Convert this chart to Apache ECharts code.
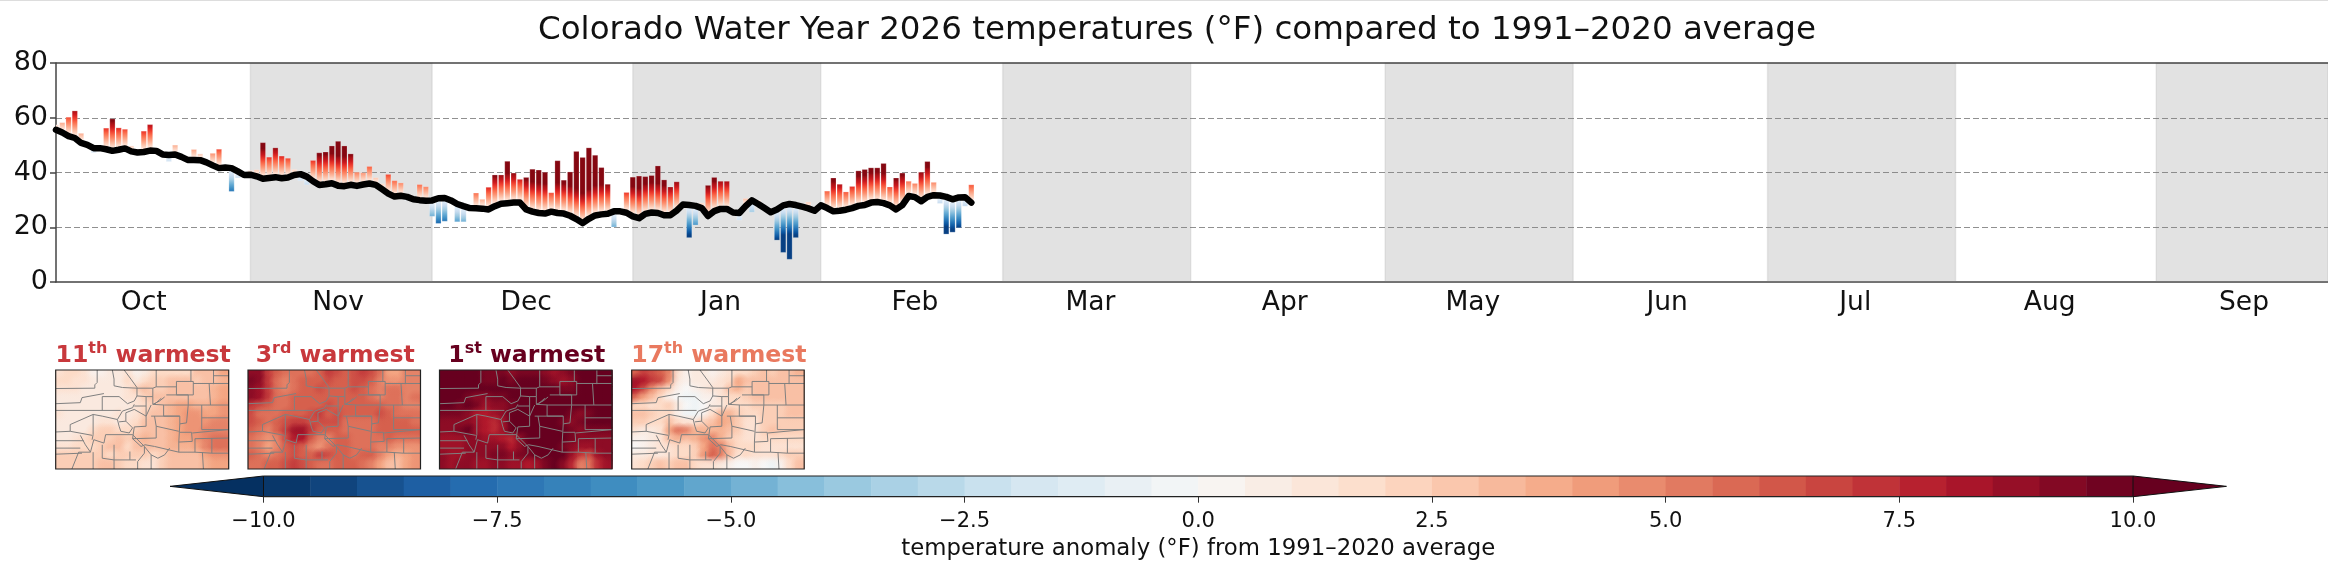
<!DOCTYPE html>
<html><head><meta charset="utf-8">
<style>html,body{margin:0;padding:0;background:#fff;overflow:hidden}#c{width:2328px;height:574px}</style>
<script src="https://cdn.jsdelivr.net/npm/echarts@6/dist/echarts.min.js"></script>
</head><body><div id="c"></div>
<script>
const titleText = 'Colorado Water Year 2026 temperatures (°F) compared to 1991–2020 average';
const cbarLabel = 'temperature anomaly (°F) from 1991–2020 average';
const monthNames = ['Oct','Nov','Dec','Jan','Feb','Mar','Apr','May','Jun','Jul','Aug','Sep'];
const monthLabelDays = [14,45,75,106,137,165,196,226,257,287,318,349];
const bandStarts = [31,92,151,212,273,335];
const bandEnds = [60,122,181,242,303,362.4];
const axisEndDay = 362.4;
const climF = [55.6,54.6,53.3,52.6,50.8,50.1,48.9,48.9,48.5,47.9,48.3,48.8,47.7,47.3,47.5,48,47.9,46.6,46.4,46.6,45.7,44.6,44.6,44.5,43.7,42.6,41.6,41.8,41.6,40.4,39.1,39.2,38.6,37.7,38,38.3,37.9,38.2,39.1,39.4,38.5,36.8,35.4,35.7,36.1,35.2,35,35.5,35.1,35.6,36,35.5,33.9,32.3,31.2,31.5,31.1,30.2,29.9,29.7,29.8,30.6,30.7,29.8,28.5,27.7,27,26.9,26.8,26.5,27.7,28.6,28.8,29,29,26.5,25.7,25.2,25,25.7,25.2,25,24.2,23,21.5,23.1,24.3,24.7,24.9,25.8,25.8,25.3,24,23.3,24.9,25.4,25.2,24.4,24.4,26.1,28.3,28.1,27.8,27,24.1,25.9,26.7,26.7,25.4,25.2,27.7,29.8,28.5,27,25.5,26.5,28,28.5,28.1,27.5,26.9,26,28,27,25.8,26,26.4,27,27.8,28.1,29,29.2,28.8,28,26.5,28.1,31.4,31,29.5,31.1,31.7,31.6,31.1,30.2,30.9,31,29];
const tempF = [57.4,58.2,60.2,62.5,54.3,50.3,47.2,49,56.2,59.6,56.3,55.8,49.7,47.5,55.1,57.5,48,46.7,44,50,46,45.8,48.4,46.8,43.9,47,48.5,42,33.1,38,39.5,40.7,41,50.9,45.6,49,46,45.2,41.1,37,35.5,44.4,47.2,47.5,49.7,51.4,49.7,46.8,40.1,39.9,42.2,38.1,35.9,39.3,37,36.2,29.8,30.3,35.6,34.8,24,21.4,22.2,29.9,22,22,27.1,32.5,30.2,34.6,39.1,39.1,44.1,39.8,37.5,38.2,41.2,40.9,40.1,32.6,44.3,37.2,40.2,47.7,45.5,49,46.3,41.8,35.7,20.1,25.8,32.7,38.3,38.7,38.5,38.9,42.4,37.3,34.7,36.6,28.3,16.2,20.8,28.9,35.3,38.2,36.8,36.8,25.5,22.6,30.5,25.5,29.9,27,25.5,15.3,10.8,8.3,16.2,27.5,29.2,26,28,33.2,38,35.7,32.9,34.9,40.6,41.1,41.7,41.7,43.3,34.7,38,39.8,36.8,36,40.1,44,36.4,28.7,17.5,18.2,19.8,27.7,35.5];

const mapTitles = [['11','th','#c8383c'],['3','rd','#c8383c'],['1','st','#67001f'],['17','th','#e9795f']];
const map1Rows = [
[1.5,2,2,1.5,.5,.5,1,1,1.5,.5,1,2,2,2,2,2,3,3,3,4],
[2,2,1.5,1.5,1,1,1,1,2,1,2,2.5,2.5,3,3,3,2.5,3,3,3.5],
[1.5,1.5,1.5,1,1,1,1,1,1.5,2.5,3,2.5,2.5,3,3,3,3,3,3.5,4],
[1,1,1,1,1,1,1,1,1.5,1.5,2.5,3,3,3,3,3,3,3,3.5,4],
[1,1,1,1,1,1,1,1,1,1.5,2,2.5,3,3.5,4,4,3.5,3.5,4,4.5],
[1.5,1,1,1,1,1,1,1.5,1,1.5,2.5,3,3,3.5,4,4.5,4.5,4,4,4.5],
[1,1,1,1,1,1.5,1.5,1,1.5,2,3,3,3,3.5,4,4.5,4.5,4.5,5,5],
[1,1,1,1,2,2.5,2.5,2,2,2.5,3,3,3,3.5,4,4.5,4.5,5,5,5],
[1,1,1.5,2,2.5,2.5,2.5,3,2.5,3,3.5,3,3,3.5,4,4,4.5,5,5.5,5.5],
[1.5,1.5,2,2,2,2.5,3,3,2,3,3,3,3,3.5,3.5,3.5,4,5,5.5,5.5],
[2.5,2.5,2.5,2.5,2.5,2.5,2,2.5,2.5,2.5,2.5,2,2.5,3,3,3,3,4,4.5,4.5],
[2.5,2.5,2.5,2.5,2.5,3,3,2.5,2,2,1.5,1.5,2.5,3,3,3,3,3.5,4,4]];
const map2Rows = [
[9,9,7,6,5.5,5.5,5.5,5.5,6,7,6.5,6,6.5,7,6.5,5.5,4,4,5,5],
[9.5,9,7,5.5,5,5.5,6,6,6,6.5,6,6,6.5,6.5,6,5,4.5,4.5,5,5],
[9,8.5,7,5.5,5,5.5,6,6,6.5,6,6,6,6.5,6,5.5,5,5.5,5.5,5,5],
[9,8.5,7,5.5,5.5,6,6,6,6,6,6,6,6,6,5.5,5,5.5,5.5,5,5.5],
[7,6.5,6,5.5,5.5,6,6,6,6,6.5,6,6,6,6,6,6,5.5,5.5,5,5],
[6.5,5.5,5.5,5.5,6,6,6,6.5,7,6,6.5,6,6,6,6,6.5,6,5.5,5.5,5.5],
[6.5,6,5.5,6,6.5,7,7,6.5,6.5,6.5,6.5,5.5,5.5,5.5,5.5,6,6,6,6,5.5],
[6,5.5,5,6,7,8.5,8.5,7,6,6,6,5.5,5.5,5.5,5.5,6,6,6,6,6],
[5.5,5,4.5,5,6.5,8,8,6,5,5,6,6,5.5,5.5,5.5,5.5,6,5.5,5.5,5.5],
[5.5,5,4,5,6,6.5,6,5,4.5,5.5,6,6,5.5,5.5,5.5,5,5,4.5,4.5,4.5],
[6,5.5,5,5.5,6,6.5,6,6,7,6.5,6,6,5.5,6,6,5,4,3.5,4,4.5],
[5.5,5.5,6,6,6.5,7,6.5,6,5.5,5.5,6,6,6,5.5,5,4,3,3,4,4.5]];
const map3Rows = [
[10,10,10,10,10,9.5,9.5,9.5,9,9.5,9.5,9.5,9,8.5,9,9.5,10,10,10,10],
[10,10,10,10,10,9.5,9.5,10,9.5,10,10,10,9.5,9,8.5,9,10,10,10,10],
[10,10,10,10,10,10,10,10,10,10,10,10,10,10,9.5,9.5,10,10,10,10],
[10,10,10,9.5,9,9,9.5,9.5,10,10,10,10,10,10,10,10,10,10,10,10],
[10,10,9.5,10,9.5,8.5,9,9,9.5,10,10,10,10,10,10,10,10,10,10,10],
[9.5,9.5,9.5,9,8,8,8.5,9,10,10,10,10,10,10,10,9.5,9,9.5,10,10],
[9,9,9,9,8.5,8,7.5,8.5,10,10,10,10,10,10,9.5,9,9.5,10,10,10],
[9,9,9.5,10,8.5,8,7.5,8.5,10,10,10,10,10,10,10,9.5,9,9.5,9.5,9.5],
[8.5,8.5,8.5,9,9,8.5,8.5,8,7.5,9,10,10,10,10,10,9.5,9,9,9,9],
[8.5,8.5,8.5,9,9,9,9,9,8,9,10,10,10,10,9.5,9,8.5,8.5,9,9],
[9,8.5,8.5,9,9,9,9.5,9.5,9,9.5,9.5,10,10,10,10,8.5,7,6.5,8.5,9],
[9,8.5,9,9,8.5,8.5,9,9,8.5,8.5,8,8.5,9.5,10,9,7.5,5,5.5,7.5,8.5]];
const map4Rows = [
[6,7,6.5,6,5,1.5,.5,1,1,.5,1,1.5,2,2,2.5,3,2.5,3,3,3.5],
[8.5,8,7,6.5,4.5,1,.5,1,1,1,1.5,2,4,3,3,3,3,3,3,3],
[8,6.5,4.5,3,2,.5,0,.5,1,1.5,1.5,3,3.5,2.5,3,3,3,3,3,3],
[5.5,4,3,2,.5,0,-.5,-.5,.5,.5,1.5,2,2,2.5,3,3,3,3,3,3],
[2,2,1.5,2,2.5,1,0,-.5,0,1,1,2,2,2,2.5,2.5,2.5,2.5,3,3],
[3,3,2.5,2,2,.5,-.5,-.5,.5,2,3.5,3.5,2.5,2,2,2.5,2.5,2.5,3,3],
[2.5,2.5,2,2,3,2,1.5,1.5,2.5,3,4,3.5,2.5,1.5,1.5,2.5,2.5,2.5,2.5,2.5],
[1.5,1,1,1.5,4,5.5,5,3.5,3.5,3.5,3.5,3,2.5,1.5,1.5,2.5,3,2.5,2.5,2.5],
[.5,.5,1,1.5,3,3.5,3,3.5,4.5,5,3.5,2.5,2,1.5,1.5,2,2,2,2,2],
[0,.5,1,1.5,1.5,2,2,2.5,4,5.5,5,3,2,2,2,1.5,1.5,1.5,1.5,1.5],
[1,1,1.5,1,1.5,2,2,2.5,4.5,6,5,3,1.5,2,1.5,1.5,1.5,2,2.5,2.5],
[1.5,2,2.5,3,2.5,3,3,2,1.5,1.5,1,.5,0,0,.5,0,-.5,.5,2,3]];
const countyLines = [
[[140,18],[140,55],[133,62],[133,72],[18,73]],
[[185,18],[190,45],[190,65],[215,70],[258,72],[305,72],[305,97]],
[[220,18],[240,45],[258,70],[258,95],[285,97],[305,97],[305,120],[340,122],[410,122],[530,122]],
[[315,18],[315,68],[305,72]],[[315,68],[375,68]],
[[375,52],[425,52],[425,92],[375,92],[375,52]],[[418,18],[418,52]],
[[485,18],[485,60]],[[485,35],[530,35]],[[425,58],[530,58]],[[472,58],[476,122]],
[[345,92],[410,92],[410,122],[405,175],[385,178],[385,155],[337,155],[337,122]],
[[300,155],[385,155]],[[285,97],[285,155],[300,122]],
[[285,155],[285,185],[250,187],[245,222],[270,245],[282,240],[310,245],[382,262]],
[[310,155],[315,185],[315,220],[245,222]],
[[315,185],[382,200]],[[385,178],[382,232],[422,230],[420,203],[385,203]],
[[382,232],[382,262],[430,262],[430,222],[530,220]],[[430,262],[480,265],[480,220]],[[480,265],[530,265]],
[[450,122],[450,195]],[[450,160],[530,160]],[[450,195],[530,195]],[[422,205],[530,195]],[[452,262],[455,312]],
[[355,250],[340,270],[320,280],[300,270],[280,245]],[[300,270],[300,312]],
[[260,312],[260,290],[280,265],[280,245]],[[237,260],[237,285]],
[[155,240],[155,280],[190,285],[255,285]],[[190,285],[190,312]],[[190,240],[190,285]],
[[165,210],[245,210],[280,245]],[[165,210],[160,235],[130,225],[120,262],[85,262],[65,312]],
[[128,150],[128,210],[125,225]],[[128,150],[60,180],[60,200],[18,202]],[[60,200],[125,212]],
[[18,228],[100,228]],[[18,250],[90,250]],[[18,268],[95,265]],[[90,212],[105,240],[120,262]],
[[128,150],[155,155],[200,165],[215,140],[245,130],[250,120]],
[[200,165],[205,185],[210,200],[235,205],[245,190],[225,170],[205,172]],
[[155,97],[155,138]],[[155,97],[205,97],[230,118],[250,110],[258,95]],
[[18,118],[90,115],[95,100],[160,88]],[[18,138],[210,138]],
[[225,170],[225,145],[250,135],[285,155]],[[250,125],[285,125]],
[[305,120],[325,110],[340,98]],[[312,118],[330,102]],[[128,262],[128,312]]];

const rdbuStops = ['#053061','#2166ac','#4393c3','#92c5de','#d1e5f0','#f7f7f7','#fddbc7','#f4a582','#d6604d','#b2182b','#67001f'];
const redsStops = ['#fff5f0','#fee0d2','#fcbba1','#fc9272','#fb6a4a','#ef3b2c','#cb181d','#a50f15','#67000d'];
const bluesStops = ['#f7fbff','#deebf7','#c6dbef','#9ecae1','#6baed6','#4292c6','#2171b5','#08519c','#08306b'];
function hex(c){return [1,3,5].map(i=>parseInt(c.substr(i,2),16));}
function ramp(stops,t,alpha){
  const n=stops.length-1, p=Math.max(0,Math.min(1,t))*n, i=Math.min(n-1,Math.floor(p)), f=p-i;
  const a=hex(stops[i]), b=hex(stops[i+1]);
  const m=a.map((x,k)=>Math.round(x+(b[k]-x)*f));
  return `rgba(${m[0]},${m[1]},${m[2]},${alpha===undefined?1:alpha})`;
}
function cmap(v,alpha){return ramp(rdbuStops,(v+10)/20,alpha);}
function barColor(a){const t=Math.min(.94,Math.abs(a)/11.5);return ramp(a>=0?redsStops:bluesStops,t);}
const G = echarts.graphic;
const FONT = '"DejaVu Sans"';
const dayRows = climF.map((c,i)=>[i,c,tempF[i]]);
const bins=[]; for(let k=0;k<40;k++) bins.push([-10+k*.5,-10+(k+1)*.5]);

function barItem(p,api){
  const i=api.value(0), c=api.value(1), t=api.value(2), a=t-c;
  const top=api.coord([i,Math.max(c,t)]), bot=api.coord([i,Math.min(c,t)]);
  const w=api.size([1,0])[0]*0.84, stops=[];
  for(let k=0;k<=24;k++){const f=k/24; stops.push({offset:f,color:barColor(a>0?a*(1-f):a*f)});}
  return {type:'rect',shape:{x:top[0]-w/2,y:top[1],width:w,height:Math.max(bot[1]-top[1],.5)},
    style:{fill:new G.LinearGradient(0,0,0,1,stops),stroke:'rgba(255,255,255,.35)',lineWidth:.6}};
}
const grids=[{left:56,right:0,top:63,height:219,show:false},{left:263.5,width:1869.5,top:476,height:20.7,show:false}];
const xAxes=[{gridIndex:0,type:'value',min:0,max:axisEndDay,splitLine:{show:false},axisTick:{show:false},
    axisLine:{onZero:false,lineStyle:{color:'#444',width:1.5}},
    axisLabel:{customValues:monthLabelDays,fontFamily:FONT,fontSize:26.5,color:'#111',margin:8,
      formatter:v=>monthNames[monthLabelDays.indexOf(v)]||''}},
  {gridIndex:1,type:'value',min:-10,max:10,interval:2.5,splitLine:{show:false},
    axisTick:{length:6,lineStyle:{color:'#333',width:1}},axisLine:{show:false},
    axisLabel:{fontFamily:FONT,fontSize:21,color:'#111',margin:14,formatter:v=>v.toFixed(1).replace('-','−')},
    name:cbarLabel,nameLocation:'middle',nameGap:41,nameTextStyle:{fontFamily:FONT,fontSize:22.8,color:'#111'}}];
const yAxes=[{gridIndex:0,type:'value',min:0,max:80,interval:20,
    axisLine:{show:true,lineStyle:{color:'#444',width:1.5}},axisTick:{show:true,length:6,lineStyle:{color:'#444',width:1.5}},
    axisLabel:{fontFamily:FONT,fontSize:27,color:'#111',margin:8},
    splitLine:{show:true,showMaxLine:false,showMinLine:false,lineStyle:{color:'#909090',type:[6,3],width:1.2}}},
  {gridIndex:1,type:'value',min:0,max:1,show:false}];
const series=[
 {type:'line',xAxisIndex:0,yAxisIndex:0,data:[],silent:true,markArea:{silent:true,
   itemStyle:{color:'rgba(128,128,128,.23)',borderColor:'rgba(128,128,128,.14)',borderWidth:1.5},
   data:bandStarts.map((s,i)=>[{xAxis:s},{xAxis:bandEnds[i]}])}},
 {type:'custom',xAxisIndex:0,yAxisIndex:0,clip:true,data:dayRows,encode:{x:0,y:[1,2]},renderItem:barItem,z:3},
 {type:'line',xAxisIndex:0,yAxisIndex:0,data:climF.map((c,i)=>[i,c]),showSymbol:false,z:4,
   lineStyle:{color:'#000',width:6.5,join:'round',cap:'round'}},
 {type:'custom',xAxisIndex:0,yAxisIndex:0,data:[[0,80]],encode:{x:0,y:1},z:5,renderItem:(p,api)=>{
   const a=api.coord([0,80]),b=api.coord([axisEndDay,80]);
   return {type:'line',shape:{x1:a[0],y1:a[1],x2:b[0],y2:b[1]},style:{stroke:'#444',lineWidth:1.5}};}},
 {type:'custom',xAxisIndex:1,yAxisIndex:1,data:bins,encode:{x:[0,1]},z:3,renderItem:(p,api)=>{
   const a=api.coord([api.value(0),1]),b=api.coord([api.value(1),0]);
   return {type:'rect',shape:{x:a[0],y:a[1],width:b[0]-a[0]+.5,height:b[1]-a[1]},
     style:{fill:cmap((api.value(0)+api.value(1))/2)}};}},
 {type:'custom',xAxisIndex:1,yAxisIndex:1,data:[[-10,-11,'#053061'],[10,11,'#67001f']],encode:{x:[0,1]},z:4,clip:false,
   renderItem:(p,api)=>{const e=api.value(0),t=api.value(1);
     return {type:'polygon',shape:{points:[api.coord([e,1]),api.coord([t,.5]),api.coord([e,0])]},
       style:{fill:p.dataIndex?'#67001f':'#053061',stroke:'#111',lineWidth:1}};}},
 {type:'custom',xAxisIndex:1,yAxisIndex:1,data:[[-10,10]],encode:{x:[0,1]},z:5,renderItem:(p,api)=>{
   const a=api.coord([-10,1]),b=api.coord([10,0]);
   return {type:'group',children:[
     {type:'line',shape:{x1:a[0],y1:a[1],x2:b[0],y2:a[1]},style:{stroke:'#222',lineWidth:1.2}},
     {type:'line',shape:{x1:a[0],y1:b[1],x2:b[0],y2:b[1]},style:{stroke:'#222',lineWidth:1.2}}]};}}
];
const titles=[{text:titleText,left:1172,top:9,textAlign:'center',textStyle:{fontFamily:FONT,fontSize:32.5,fontWeight:'normal',color:'#111'}}];
const mapBoxes=[[55.7,173],[248,172.5],[439.5,172.5],[631.7,172.5]];
[map1Rows,map2Rows,map3Rows,map4Rows].forEach((rows,m)=>{
  const gi=grids.length, ai=xAxes.length;
  grids.push({left:mapBoxes[m][0],width:mapBoxes[m][1],top:370,height:99,show:false});
  xAxes.push({gridIndex:gi,type:'value',min:17,max:530,show:false});
  yAxes.push({gridIndex:gi,type:'value',min:18,max:312,inverse:true,show:false});
  const cw=513/20, ch=294/12, cells=[];
  rows.forEach((r,j)=>r.forEach((v,i)=>cells.push([17+(i+.5)*cw,18+(j+.5)*ch,v])));
  series.push({type:'custom',xAxisIndex:ai,yAxisIndex:ai,clip:true,data:cells,encode:{x:0,y:1},z:2,renderItem:(p,api)=>{
    const c=api.coord([api.value(0),api.value(1)]),s=api.size([cw,ch]);
    return {type:'rect',shape:{x:c[0]-s[0]/2-.5,y:c[1]-s[1]/2-.5,width:s[0]+1,height:s[1]+1},style:{fill:cmap(api.value(2))}};}});
  series.push({type:'custom',xAxisIndex:ai,yAxisIndex:ai,clip:true,data:cells,encode:{x:0,y:1},z:3,renderItem:(p,api)=>{
    const c=api.coord([api.value(0),api.value(1)]),s=api.size([cw,ch]),v=api.value(2);
    return {type:'circle',shape:{cx:c[0],cy:c[1],r:s[0]*1.15},
      style:{fill:new G.RadialGradient(.5,.5,.5,[{offset:0,color:cmap(v,.9)},{offset:.5,color:cmap(v,.6)},{offset:1,color:cmap(v,0)}])}};}});
  series.push({type:'lines',coordinateSystem:'cartesian2d',xAxisIndex:ai,yAxisIndex:ai,polyline:true,silent:true,z:4,
    data:countyLines.map(l=>({coords:l})),lineStyle:{color:'#808080',width:1,opacity:1}});
  series.push({type:'custom',xAxisIndex:ai,yAxisIndex:ai,data:[[17,18,530,312]],encode:{x:[0,2],y:[1,3]},z:5,renderItem:(p,api)=>{
    const a=api.coord([17,18]),b=api.coord([530,312]);
    return {type:'rect',shape:{x:a[0],y:a[1],width:b[0]-a[0],height:b[1]-a[1]},style:{fill:'none',stroke:'#222',lineWidth:1.2}};}});
  const mt=mapTitles[m];
  titles.push({text:`{a|${mt[0]}}{s|${mt[1]}}{a| warmest}`,left:mapBoxes[m][0]+mapBoxes[m][1]/2-4,top:336,textAlign:'center',
    textStyle:{rich:{a:{fontFamily:FONT,fontWeight:'bold',fontSize:23.6,color:mt[2],height:30,verticalAlign:'bottom'},
      s:{fontFamily:FONT,fontWeight:'bold',fontSize:16,color:mt[2],verticalAlign:'top'}}}});
});
const chart=echarts.init(document.getElementById('c'),null,{renderer:'canvas',width:2328,height:574});
chart.setOption({animation:false,backgroundColor:'#fff',title:titles,grid:grids,xAxis:xAxes,yAxis:yAxes,series,
  graphic:[{type:'rect',shape:{x:0,y:0,width:2328,height:1},style:{fill:'#ddd'},silent:true}]});
</script></body></html>
